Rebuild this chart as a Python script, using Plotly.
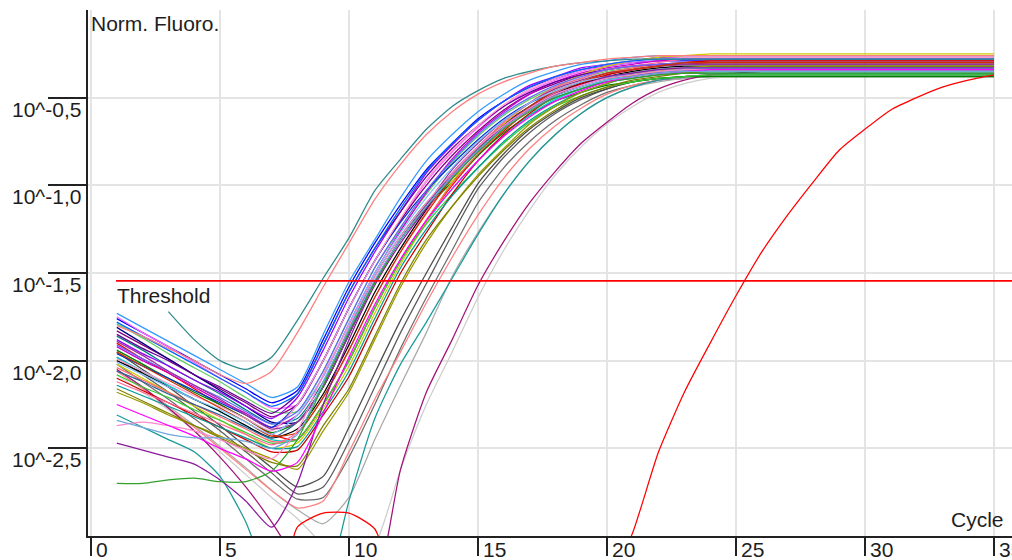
import plotly.graph_objects as go

# ---------------- data (log10 of normalised fluorescence, cycles 1..35) ----------------
CYCLES = list(range(1, 36))
THRESHOLD_LOG = -1.545
THRESHOLD_X = [0.97, 35.7]
X_TICKS = [0, 5, 10, 15, 20, 25, 30, 35]
Y_TICKS_LOG = [-0.5, -1.0, -1.5, -2.0, -2.5]
Y_TICK_LABELS = ["10^-0,5", "10^-1,0", "10^-1,5", "10^-2,0", "10^-2,5"]

# late / grey samples
grey_1 = [-1.98, -2.08, -2.18, -2.29, -2.40, -2.52, -2.64, -2.76, -2.72, -2.46,
          -2.15, -1.84, -1.56, -1.28, -1.02, -0.84, -0.70, -0.59, -0.51, -0.45,
          -0.41, -0.39, -0.38, -0.37, -0.37, -0.37, -0.37, -0.37, -0.37, -0.37, -0.37, -0.37, -0.37, -0.37, -0.37]
grey_2 = [-2.02, -2.12, -2.22, -2.33, -2.44, -2.56, -2.68, -2.79, -2.78, -2.55,
          -2.25, -1.93, -1.64, -1.37, -1.10, -0.90, -0.75, -0.63, -0.54, -0.47,
          -0.43, -0.40, -0.39, -0.38, -0.38, -0.38, -0.38, -0.38, -0.38, -0.38, -0.38, -0.38, -0.38, -0.38, -0.38]
grey_3 = [-1.95, -2.05, -2.15, -2.26, -2.37, -2.49, -2.61, -2.72, -2.66, -2.38,
          -2.07, -1.77, -1.50, -1.24, -0.99, -0.82, -0.68, -0.58, -0.50, -0.45,
          -0.41, -0.39, -0.38, -0.37, -0.37, -0.37, -0.37, -0.37, -0.37, -0.37, -0.37, -0.37, -0.37, -0.37, -0.37]
grey_4 = [-2.05, -2.15, -2.26, -2.37, -2.49, -2.61, -2.74, -2.85, -2.93, -2.78,
          -2.45, -2.14, -1.84, -1.52, -1.27, -1.05, -0.86, -0.71, -0.59, -0.50,
          -0.44, -0.41, -0.39, -0.38, -0.38, -0.38, -0.38, -0.38, -0.38, -0.38, -0.38, -0.38, -0.38, -0.38, -0.38]
grey_5 = [-2.08, -2.18, -2.28, -2.40, -2.52, -2.65, -2.78, -2.90, -3.05, -3.15,
          -3.05, -2.62, -2.25, -1.95, -1.64, -1.37, -1.14, -0.94, -0.78, -0.65,
          -0.55, -0.47, -0.42, -0.39, -0.38, -0.38, -0.38, -0.38, -0.38, -0.38, -0.38, -0.38, -0.38, -0.38, -0.38]
salmon_late = [-2.06, -2.16, -2.27, -2.38, -2.50, -2.62, -2.74, -2.84, -2.80, -2.52,
               -2.22, -1.95, -1.67, -1.41, -1.17, -0.96, -0.79, -0.66, -0.56, -0.48,
               -0.43, -0.40, -0.38, -0.37, -0.37, -0.37, -0.37, -0.37, -0.37, -0.37, -0.37, -0.37, -0.37, -0.37, -0.37]
teal_low = [-2.31, -2.38, -2.45, -2.52, -2.66, -2.92, -3.30, -3.50, -3.35, -2.80,
            -2.33, -2.02, -1.78, -1.53, -1.28, -1.05, -0.86, -0.71, -0.59, -0.50,
            -0.44, -0.40, -0.38, -0.37, -0.37, -0.37, -0.37, -0.37, -0.37, -0.37, -0.37, -0.37, -0.37, -0.37, -0.37]
magenta_late = [-2.05, -2.15, -2.27, -2.40, -2.55, -2.72, -2.92, -3.15, -3.35, -3.40,
                -3.30, -2.62, -2.18, -1.88, -1.57, -1.32, -1.10, -0.92, -0.76, -0.64,
                -0.53, -0.45, -0.40, -0.37, -0.36, -0.35, -0.35, -0.35, -0.35, -0.35, -0.35, -0.35, -0.35, -0.35, -0.35]

# main cluster
c01 = [-1.73, -1.81, -1.89, -1.97, -2.05, -2.13, -2.21, -2.15, -1.85, -1.55,
       -1.31, -1.07, -0.86, -0.71, -0.58, -0.48, -0.40, -0.35, -0.31, -0.29,
       -0.27, -0.26, -0.26, -0.26, -0.26, -0.26, -0.26, -0.26, -0.26, -0.26, -0.26, -0.26, -0.26, -0.26, -0.26]
c02 = [-1.76, -1.84, -1.92, -2.00, -2.08, -2.16, -2.24, -2.17, -1.88, -1.58,
       -1.33, -1.11, -0.91, -0.76, -0.62, -0.52, -0.44, -0.39, -0.34, -0.32,
       -0.30, -0.29, -0.29, -0.29, -0.29, -0.29, -0.29, -0.29, -0.29, -0.29, -0.29, -0.29, -0.29, -0.29, -0.29]
c03 = [-1.75, -1.84, -1.92, -2.01, -2.10, -2.18, -2.27, -2.25, -2.00, -1.70,
       -1.43, -1.20, -0.98, -0.81, -0.67, -0.55, -0.46, -0.40, -0.35, -0.32,
       -0.30, -0.29, -0.28, -0.28, -0.28, -0.28, -0.28, -0.28, -0.28, -0.28, -0.28, -0.28, -0.28, -0.28, -0.28]
c04 = [-1.79, -1.87, -1.96, -2.04, -2.12, -2.21, -2.29, -2.29, -2.06, -1.76,
       -1.47, -1.25, -1.05, -0.87, -0.72, -0.60, -0.51, -0.44, -0.39, -0.35,
       -0.33, -0.32, -0.31, -0.31, -0.31, -0.31, -0.31, -0.31, -0.31, -0.31, -0.31, -0.31, -0.31, -0.31, -0.31]
c05 = [-1.83, -1.91, -1.99, -2.08, -2.16, -2.24, -2.32, -2.25, -2.00, -1.70,
       -1.43, -1.20, -1.00, -0.83, -0.69, -0.57, -0.48, -0.42, -0.37, -0.34,
       -0.32, -0.31, -0.30, -0.30, -0.30, -0.30, -0.30, -0.30, -0.30, -0.30, -0.30, -0.30, -0.30, -0.30, -0.30]
c06 = [-1.81, -1.90, -1.99, -2.08, -2.17, -2.26, -2.35, -2.35, -2.15, -1.85,
       -1.55, -1.31, -1.11, -0.93, -0.78, -0.65, -0.55, -0.47, -0.42, -0.38,
       -0.36, -0.34, -0.33, -0.33, -0.33, -0.33, -0.33, -0.33, -0.33, -0.33, -0.33, -0.33, -0.33, -0.33, -0.33]
c07 = [-1.86, -1.94, -2.03, -2.11, -2.19, -2.28, -2.36, -2.33, -2.12, -1.82,
       -1.52, -1.29, -1.10, -0.95, -0.80, -0.67, -0.57, -0.50, -0.45, -0.41,
       -0.39, -0.37, -0.36, -0.36, -0.36, -0.36, -0.36, -0.36, -0.36, -0.36, -0.36, -0.36, -0.36, -0.36, -0.36]
c08 = [-1.88, -1.96, -2.03, -2.11, -2.18, -2.26, -2.33, -2.21, -1.94, -1.64,
       -1.38, -1.15, -0.93, -0.77, -0.63, -0.52, -0.43, -0.38, -0.33, -0.31,
       -0.29, -0.27, -0.27, -0.27, -0.27, -0.27, -0.27, -0.27, -0.27, -0.27, -0.27, -0.27, -0.27, -0.27, -0.27]
c09 = [-1.90, -1.99, -2.07, -2.16, -2.25, -2.33, -2.42, -2.45, -2.25, -2.00,
       -1.70, -1.43, -1.20, -1.00, -0.83, -0.69, -0.57, -0.48, -0.42, -0.37,
       -0.34, -0.32, -0.31, -0.30, -0.30, -0.30, -0.30, -0.30, -0.30, -0.30, -0.30, -0.30, -0.30, -0.30, -0.30]
c10 = [-1.92, -2.00, -2.07, -2.15, -2.23, -2.30, -2.38, -2.31, -2.09, -1.79,
       -1.50, -1.26, -1.04, -0.85, -0.70, -0.58, -0.48, -0.41, -0.36, -0.33,
       -0.31, -0.29, -0.28, -0.28, -0.28, -0.28, -0.28, -0.28, -0.28, -0.28, -0.28, -0.28, -0.28, -0.28, -0.28]
c11 = [-1.94, -2.02, -2.10, -2.18, -2.25, -2.33, -2.41, -2.35, -2.15, -1.85,
       -1.55, -1.31, -1.13, -0.98, -0.83, -0.70, -0.60, -0.52, -0.47, -0.43,
       -0.41, -0.39, -0.38, -0.38, -0.38, -0.38, -0.38, -0.38, -0.38, -0.38, -0.38, -0.38, -0.38, -0.38, -0.38]
c12 = [-1.96, -2.03, -2.10, -2.17, -2.24, -2.31, -2.38, -2.25, -2.00, -1.70,
       -1.43, -1.21, -1.03, -0.88, -0.74, -0.62, -0.53, -0.47, -0.42, -0.39,
       -0.37, -0.36, -0.35, -0.35, -0.35, -0.35, -0.35, -0.35, -0.35, -0.35, -0.35, -0.35, -0.35, -0.35, -0.35]
c13 = [-1.98, -2.06, -2.14, -2.22, -2.29, -2.37, -2.45, -2.45, -2.25, -2.00,
       -1.70, -1.43, -1.21, -1.02, -0.86, -0.72, -0.60, -0.51, -0.45, -0.40,
       -0.37, -0.35, -0.34, -0.33, -0.33, -0.33, -0.33, -0.33, -0.33, -0.33, -0.33, -0.33, -0.33, -0.33, -0.33]
c14 = [-2.00, -2.07, -2.15, -2.22, -2.29, -2.37, -2.44, -2.39, -2.19, -1.91,
       -1.61, -1.36, -1.14, -0.96, -0.80, -0.67, -0.56, -0.48, -0.42, -0.38,
       -0.35, -0.33, -0.32, -0.32, -0.32, -0.32, -0.32, -0.32, -0.32, -0.32, -0.32, -0.32, -0.32, -0.32, -0.32]
c15 = [-2.02, -2.10, -2.18, -2.26, -2.34, -2.42, -2.50, -2.47, -2.27, -2.03,
       -1.73, -1.45, -1.21, -0.98, -0.79, -0.65, -0.53, -0.44, -0.37, -0.32,
       -0.29, -0.27, -0.26, -0.25, -0.25, -0.25, -0.25, -0.25, -0.25, -0.25, -0.25, -0.25, -0.25, -0.25, -0.25]
c16 = [-2.04, -2.11, -2.18, -2.25, -2.32, -2.39, -2.46, -2.45, -2.25, -2.00,
       -1.70, -1.43, -1.20, -0.99, -0.82, -0.68, -0.56, -0.47, -0.41, -0.36,
       -0.33, -0.31, -0.30, -0.29, -0.29, -0.29, -0.29, -0.29, -0.29, -0.29, -0.29, -0.29, -0.29, -0.29, -0.29]
c17 = [-2.06, -2.12, -2.19, -2.25, -2.31, -2.38, -2.44, -2.35, -2.15, -1.85,
       -1.55, -1.31, -1.11, -0.94, -0.79, -0.66, -0.56, -0.48, -0.43, -0.39,
       -0.37, -0.35, -0.34, -0.34, -0.34, -0.34, -0.34, -0.34, -0.34, -0.34, -0.34, -0.34, -0.34, -0.34, -0.34]
c18 = [-1.85, -1.93, -2.00, -2.08, -2.15, -2.23, -2.30, -2.19, -1.91, -1.61,
       -1.36, -1.15, -0.95, -0.79, -0.66, -0.55, -0.47, -0.41, -0.37, -0.34,
       -0.32, -0.31, -0.31, -0.31, -0.31, -0.31, -0.31, -0.31, -0.31, -0.31, -0.31, -0.31, -0.31, -0.31, -0.31]
c19 = [-2.08, -2.15, -2.21, -2.28, -2.34, -2.41, -2.47, -2.45, -2.25, -2.00,
       -1.70, -1.43, -1.22, -1.05, -0.90, -0.76, -0.64, -0.55, -0.49, -0.44,
       -0.41, -0.39, -0.38, -0.37, -0.37, -0.37, -0.37, -0.37, -0.37, -0.37, -0.37, -0.37, -0.37, -0.37, -0.37]
c20 = [-2.10, -2.17, -2.24, -2.31, -2.38, -2.45, -2.52, -2.51, -2.31, -2.09,
       -1.79, -1.50, -1.27, -1.05, -0.86, -0.71, -0.59, -0.49, -0.42, -0.37,
       -0.34, -0.32, -0.30, -0.29, -0.29, -0.29, -0.29, -0.29, -0.29, -0.29, -0.29, -0.29, -0.29, -0.29, -0.29]
c21 = [-2.12, -2.18, -2.24, -2.30, -2.36, -2.42, -2.48, -2.41, -2.21, -1.94,
       -1.64, -1.38, -1.15, -0.94, -0.78, -0.64, -0.53, -0.44, -0.39, -0.34,
       -0.32, -0.30, -0.28, -0.28, -0.28, -0.28, -0.28, -0.28, -0.28, -0.28, -0.28, -0.28, -0.28, -0.28, -0.28]
c22 = [-2.14, -2.20, -2.26, -2.32, -2.38, -2.44, -2.50, -2.49, -2.29, -2.06,
       -1.76, -1.47, -1.25, -1.06, -0.90, -0.75, -0.63, -0.54, -0.47, -0.42,
       -0.38, -0.36, -0.35, -0.34, -0.34, -0.34, -0.34, -0.34, -0.34, -0.34, -0.34, -0.34, -0.34, -0.34, -0.34]
c23 = [-2.18, -2.24, -2.31, -2.37, -2.43, -2.50, -2.56, -2.62, -2.40, -2.18,
       -1.88, -1.58, -1.33, -1.12, -0.94, -0.79, -0.65, -0.55, -0.47, -0.42,
       -0.37, -0.35, -0.33, -0.32, -0.32, -0.32, -0.32, -0.32, -0.32, -0.32, -0.32, -0.32, -0.32, -0.32, -0.32]
c24 = [-1.99, -2.06, -2.13, -2.20, -2.26, -2.33, -2.40, -2.25, -2.00, -1.70,
       -1.43, -1.19, -0.97, -0.80, -0.66, -0.54, -0.45, -0.39, -0.34, -0.31,
       -0.29, -0.28, -0.27, -0.27, -0.27, -0.27, -0.27, -0.27, -0.27, -0.27, -0.27, -0.27, -0.27, -0.27, -0.27]
c25 = [-1.91, -1.99, -2.06, -2.14, -2.21, -2.29, -2.36, -2.29, -2.06, -1.76,
       -1.47, -1.24, -1.03, -0.86, -0.71, -0.59, -0.50, -0.43, -0.38, -0.34,
       -0.32, -0.31, -0.30, -0.30, -0.30, -0.30, -0.30, -0.30, -0.30, -0.30, -0.30, -0.30, -0.30, -0.30, -0.30]
c26 = [-2.16, -2.23, -2.30, -2.37, -2.44, -2.51, -2.58, -2.60, -2.37, -2.16,
       -1.86, -1.56, -1.31, -1.12, -0.95, -0.80, -0.67, -0.57, -0.49, -0.44,
       -0.40, -0.38, -0.36, -0.35, -0.35, -0.35, -0.35, -0.35, -0.35, -0.35, -0.35, -0.35, -0.35, -0.35, -0.35]
c27 = [-1.78, -1.86, -1.94, -2.02, -2.10, -2.18, -2.26, -2.19, -1.91, -1.61,
       -1.36, -1.13, -0.92, -0.76, -0.63, -0.52, -0.44, -0.38, -0.34, -0.31,
       -0.29, -0.28, -0.28, -0.28, -0.28, -0.28, -0.28, -0.28, -0.28, -0.28, -0.28, -0.28, -0.28, -0.28, -0.28]
c28 = [-1.89, -1.97, -2.06, -2.14, -2.22, -2.31, -2.39, -2.35, -2.15, -1.85,
       -1.55, -1.31, -1.11, -0.91, -0.76, -0.63, -0.53, -0.45, -0.40, -0.36,
       -0.34, -0.32, -0.31, -0.31, -0.31, -0.31, -0.31, -0.31, -0.31, -0.31, -0.31, -0.31, -0.31, -0.31, -0.31]
c29 = [-1.95, -2.03, -2.11, -2.19, -2.27, -2.35, -2.43, -2.41, -2.21, -1.94,
       -1.64, -1.38, -1.16, -0.96, -0.80, -0.66, -0.55, -0.46, -0.41, -0.36,
       -0.34, -0.32, -0.30, -0.30, -0.30, -0.30, -0.30, -0.30, -0.30, -0.30, -0.30, -0.30, -0.30, -0.30, -0.30]
c30 = [-2.01, -2.08, -2.15, -2.22, -2.28, -2.35, -2.42, -2.31, -2.09, -1.79,
       -1.50, -1.27, -1.07, -0.90, -0.75, -0.63, -0.53, -0.46, -0.41, -0.38,
       -0.36, -0.34, -0.33, -0.33, -0.33, -0.33, -0.33, -0.33, -0.33, -0.33, -0.33, -0.33, -0.33, -0.33, -0.33]

# individual outliers
teal_early = [None, None, -1.72, -1.88, -2.00, -2.05, -1.98, -1.77, -1.53, -1.30,
              -1.03, -0.85, -0.68, -0.55, -0.46, -0.39, -0.35, -0.32, -0.30, -0.29,
              -0.28, -0.28, -0.28, -0.28, -0.28, -0.28, -0.28, -0.28, -0.28, -0.28, -0.28, -0.28, -0.28, -0.28, -0.28]
salmon_early = [-1.80, -1.86, -1.93, -2.00, -2.08, -2.13, -2.06, -1.84, -1.58, -1.33,
                -1.08, -0.88, -0.71, -0.58, -0.48, -0.41, -0.36, -0.32, -0.30, -0.28,
                -0.27, -0.26, -0.26, -0.26, -0.26, -0.26, -0.26, -0.26, -0.26, -0.26, -0.26, -0.26, -0.26, -0.26, -0.26]
violet_v = [-2.47, -2.51, -2.55, -2.59, -2.68, -2.80, -2.95, -2.70, -2.25, -1.88,
            -1.57, -1.33, -1.13, -0.95, -0.80, -0.66, -0.56, -0.48, -0.43, -0.38,
            -0.36, -0.34, -0.33, -0.33, -0.33, -0.33, -0.33, -0.33, -0.33, -0.33, -0.33, -0.33, -0.33, -0.33, -0.33]
green_low = [-2.70, -2.70, -2.68, -2.67, -2.69, -2.69, -2.63, -2.45, -2.14, -1.83,
             -1.56, -1.31, -1.12, -0.96, -0.81, -0.68, -0.58, -0.50, -0.45, -0.41,
             -0.39, -0.37, -0.36, -0.36, -0.36, -0.36, -0.36, -0.36, -0.36, -0.36, -0.36, -0.36, -0.36, -0.36, -0.36]
pink_low = [-2.37, -2.35, -2.37, -2.40, -2.45, -2.51, -2.56, -2.40, -2.08, -1.80,
            -1.52, -1.29, -1.10, -0.93, -0.78, -0.66, -0.56, -0.48, -0.43, -0.39,
            -0.37, -0.35, -0.34, -0.34, -0.34, -0.34, -0.34, -0.34, -0.34, -0.34, -0.34, -0.34, -0.34, -0.34, -0.34]
magenta_low = [-2.25, -2.31, -2.37, -2.43, -2.50, -2.56, -2.63, -2.58, -2.30, -1.98,
               -1.68, -1.42, -1.20, -1.02, -0.86, -0.72, -0.61, -0.52, -0.46, -0.41,
               -0.38, -0.36, -0.35, -0.34, -0.34, -0.34, -0.34, -0.34, -0.34, -0.34, -0.34, -0.34, -0.34, -0.34, -0.34]
lightblue_low = [-2.34, -2.38, -2.42, -2.44, -2.44, -2.46, -2.50, -2.42, -2.12, -1.82,
                 -1.54, -1.31, -1.12, -0.95, -0.80, -0.67, -0.57, -0.49, -0.44, -0.40,
                 -0.38, -0.36, -0.35, -0.35, -0.35, -0.35, -0.35, -0.35, -0.35, -0.35, -0.35, -0.35, -0.35, -0.35, -0.35]
red_late = [-3.50, -3.50, -3.50, -3.50, -3.50, -3.50, -3.50, -2.95, -2.87, -2.87,
            -2.96, -3.40, -3.60, -3.60, -3.60, -3.60, -3.60, -3.60, -3.60, -3.30,
            -2.98, -2.52, -2.18, -1.90, -1.63, -1.38, -1.17, -0.98, -0.80, -0.68, -0.57, -0.50, -0.44, -0.40, -0.37]

SERIES = [
    (grey_1, "#5c5c5c"), (grey_2, "#6e6e6e"), (grey_3, "#4b4b4b"), (grey_4, "#a9a9a9"),
    (grey_5, "#cdcdcd"), (salmon_late, "#ff8080"), (teal_low, "#1a9a9a"), (magenta_late, "#a3127a"),
    (c01, "#3399ff"), (c02, "#0000ff"), (c03, "#ff66ff"), (c04, "#66cc66"), (c05, "#800080"),
    (c06, "#000080"), (c07, "#008080"), (c08, "#9900ff"), (c09, "#ff0000"), (c10, "#cc00cc"),
    (c11, "#008000"), (c12, "#0033cc"), (c13, "#00cccc"), (c14, "#000000"), (c15, "#cccc00"),
    (c16, "#ff6666"), (c17, "#336699"), (c18, "#660099"), (c19, "#33cc33"), (c20, "#cc0000"),
    (c21, "#ff6699"), (c22, "#009999"), (c23, "#999900"), (c24, "#ff99cc"), (c25, "#6666ff"),
    (c26, "#808000"), (c27, "#0066ff"), (c28, "#993399"), (c29, "#cc3300"), (c30, "#80c0ff"),
    (teal_early, "#2e8b8b"), (salmon_early, "#ff7f7f"), (violet_v, "#8b1a9b"), (green_low, "#33a02c"),
    (pink_low, "#ff88cc"), (magenta_low, "#ff00ff"), (lightblue_low, "#6fa8dc"), (red_late, "#ff0000"),
]

FONT = "Liberation Sans, Arial, sans-serif"
TEXT_COLOR = "#1e1e1e"

fig = go.Figure()
for vals, color in SERIES:
    fig.add_trace(go.Scatter(
        x=CYCLES,
        y=[None if v is None else 10 ** v for v in vals],
        mode="lines", line=dict(color=color, width=1.25, shape="spline", smoothing=0.6),
        hoverinfo="skip", connectgaps=False,
    ))

# threshold line
fig.add_trace(go.Scatter(
    x=THRESHOLD_X, y=[10 ** THRESHOLD_LOG] * len(THRESHOLD_X),
    mode="lines", line=dict(color="#ff0000", width=1.6), hoverinfo="skip",
))

annotations = []
for v, lab in zip(Y_TICKS_LOG, Y_TICK_LABELS):
    annotations.append(dict(
        xref="paper", yref="y", x=0, y=v, text=lab, showarrow=False,
        xanchor="right", yanchor="top", xshift=-5, yshift=2,
        font=dict(family=FONT, size=21, color=TEXT_COLOR),
    ))
for c in X_TICKS:
    annotations.append(dict(
        xref="x", yref="paper", x=c, y=0, text=str(c), showarrow=False,
        xanchor="left", yanchor="top", xshift=3, yshift=0,
        font=dict(family=FONT, size=21, color=TEXT_COLOR),
    ))
annotations.append(dict(
    xref="paper", yref="paper", x=0, y=1, text="Norm. Fluoro.", showarrow=False,
    xanchor="left", yanchor="top", xshift=1, yshift=0,
    font=dict(family=FONT, size=21, color=TEXT_COLOR),
))
annotations.append(dict(
    xref="paper", yref="paper", x=(1006 - 88) / 924, y=0, text="Cycle", showarrow=False,
    xanchor="right", yanchor="bottom", yshift=3,
    font=dict(family=FONT, size=21, color=TEXT_COLOR),
))
annotations.append(dict(
    xref="x", yref="y", x=1.0, y=THRESHOLD_LOG, text="Threshold", showarrow=False,
    xanchor="left", yanchor="top", xshift=-2, yshift=-1,
    font=dict(family=FONT, size=21, color=TEXT_COLOR),
))

fig.update_layout(
    template="none",
    width=1012, height=560,
    margin=dict(l=88, r=0, t=10, b=24, pad=0),
    paper_bgcolor="white", plot_bgcolor="white",
    showlegend=False,
    font=dict(family=FONT, size=21, color=TEXT_COLOR),
    annotations=annotations,
)
fig.update_xaxes(
    range=[-0.116, 35.7], tickvals=X_TICKS, showticklabels=False,
    ticks="outside", ticklen=18, tickwidth=1.5, tickcolor="#222222",
    showgrid=True, gridcolor="#e4e4e4", gridwidth=1.5, zeroline=False,
    showline=True, linecolor="#222222", linewidth=2, automargin=False,
)
fig.update_yaxes(
    type="log", range=[-3, 0], tickvals=[10 ** v for v in Y_TICKS_LOG], showticklabels=False,
    ticks="outside", ticklen=38, tickwidth=1.5, tickcolor="#222222",
    showgrid=True, gridcolor="#e4e4e4", gridwidth=1.5, zeroline=False,
    showline=True, linecolor="#222222", linewidth=2, automargin=False,
)

fig.write_html("out.html", config={"displayModeBar": False})
